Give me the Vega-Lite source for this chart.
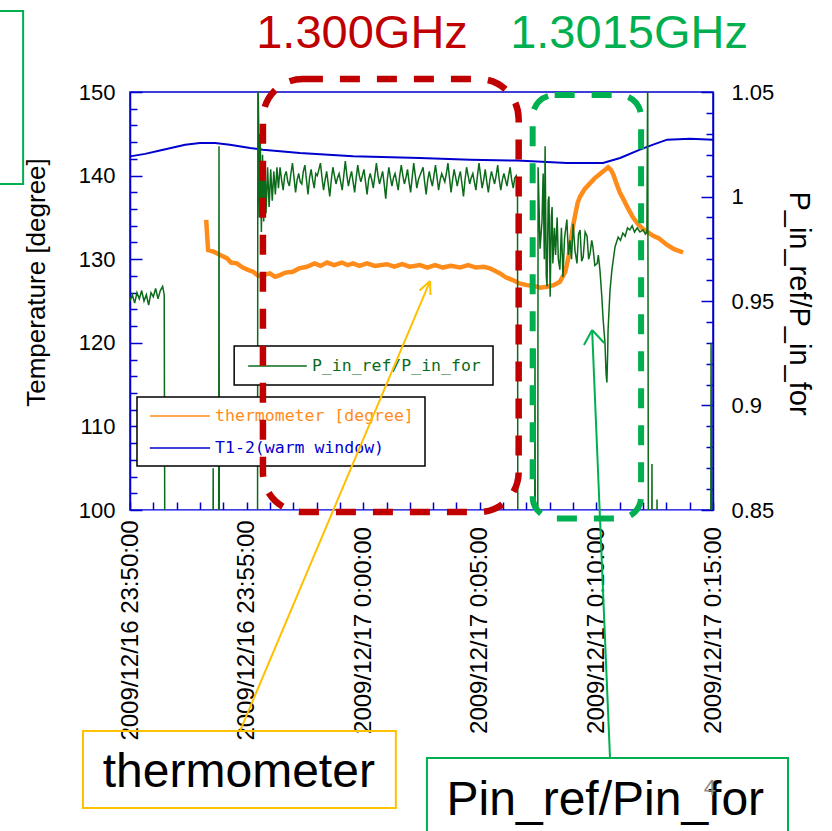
{
  "$schema": "https://vega.github.io/schema/vega-lite/v6.json",
  "width": 583,
  "height": 418,
  "autosize": {"type": "none"},
  "padding": {"left": 130, "top": 92, "right": 119, "bottom": 321},
  "background": "white",
  "config": {
    "view": {"stroke": "#0000cc", "strokeWidth": 1.5},
    "axis": {"labelFont": "Liberation Sans", "titleFont": "Liberation Sans", "labelColor": "black", "titleColor": "black", "grid": false},
    "text": {"font": "Liberation Sans"}
  },
  "datasets": {
    "temps": [
      {"t": "2009-12-16T23:50:00", "series": "T1-2(warm window)", "T": 142.3},
      {"t": "2009-12-16T23:50:39", "series": "T1-2(warm window)", "T": 142.6},
      {"t": "2009-12-16T23:51:17", "series": "T1-2(warm window)", "T": 143.0},
      {"t": "2009-12-16T23:52:22", "series": "T1-2(warm window)", "T": 143.7},
      {"t": "2009-12-16T23:53:00", "series": "T1-2(warm window)", "T": 143.9},
      {"t": "2009-12-16T23:53:39", "series": "T1-2(warm window)", "T": 143.9},
      {"t": "2009-12-16T23:54:17", "series": "T1-2(warm window)", "T": 143.7},
      {"t": "2009-12-16T23:55:09", "series": "T1-2(warm window)", "T": 143.3},
      {"t": "2009-12-16T23:55:42", "series": "T1-2(warm window)", "T": 143.1},
      {"t": "2009-12-16T23:57:17", "series": "T1-2(warm window)", "T": 142.7},
      {"t": "2009-12-16T23:59:34", "series": "T1-2(warm window)", "T": 142.3},
      {"t": "2009-12-17T00:02:26", "series": "T1-2(warm window)", "T": 142.1},
      {"t": "2009-12-17T00:04:35", "series": "T1-2(warm window)", "T": 141.9},
      {"t": "2009-12-17T00:06:36", "series": "T1-2(warm window)", "T": 141.8},
      {"t": "2009-12-17T00:08:44", "series": "T1-2(warm window)", "T": 141.5},
      {"t": "2009-12-17T00:10:17", "series": "T1-2(warm window)", "T": 141.5},
      {"t": "2009-12-17T00:11:01", "series": "T1-2(warm window)", "T": 142.1},
      {"t": "2009-12-17T00:11:52", "series": "T1-2(warm window)", "T": 143.1},
      {"t": "2009-12-17T00:12:26", "series": "T1-2(warm window)", "T": 143.7},
      {"t": "2009-12-17T00:13:02", "series": "T1-2(warm window)", "T": 144.3},
      {"t": "2009-12-17T00:14:01", "series": "T1-2(warm window)", "T": 144.4},
      {"t": "2009-12-17T00:15:00", "series": "T1-2(warm window)", "T": 144.3},
      {"t": "2009-12-16T23:53:16", "series": "thermometer [degree]", "T": 134.7},
      {"t": "2009-12-16T23:53:19", "series": "thermometer [degree]", "T": 132.5},
      {"t": "2009-12-16T23:53:21", "series": "thermometer [degree]", "T": 131.1},
      {"t": "2009-12-16T23:53:35", "series": "thermometer [degree]", "T": 130.9},
      {"t": "2009-12-16T23:53:52", "series": "thermometer [degree]", "T": 130.5},
      {"t": "2009-12-16T23:54:10", "series": "thermometer [degree]", "T": 130.1},
      {"t": "2009-12-16T23:54:20", "series": "thermometer [degree]", "T": 129.6},
      {"t": "2009-12-16T23:54:35", "series": "thermometer [degree]", "T": 129.5},
      {"t": "2009-12-16T23:54:50", "series": "thermometer [degree]", "T": 129.0},
      {"t": "2009-12-16T23:55:05", "series": "thermometer [degree]", "T": 128.7},
      {"t": "2009-12-16T23:55:17", "series": "thermometer [degree]", "T": 128.5},
      {"t": "2009-12-16T23:55:30", "series": "thermometer [degree]", "T": 128.0},
      {"t": "2009-12-16T23:55:42", "series": "thermometer [degree]", "T": 128.1},
      {"t": "2009-12-16T23:56:00", "series": "thermometer [degree]", "T": 128.3},
      {"t": "2009-12-16T23:56:13", "series": "thermometer [degree]", "T": 127.9},
      {"t": "2009-12-16T23:56:26", "series": "thermometer [degree]", "T": 128.1},
      {"t": "2009-12-16T23:56:40", "series": "thermometer [degree]", "T": 128.4},
      {"t": "2009-12-16T23:56:59", "series": "thermometer [degree]", "T": 128.5},
      {"t": "2009-12-16T23:57:15", "series": "thermometer [degree]", "T": 128.9},
      {"t": "2009-12-16T23:57:35", "series": "thermometer [degree]", "T": 129.1},
      {"t": "2009-12-16T23:57:55", "series": "thermometer [degree]", "T": 129.5},
      {"t": "2009-12-16T23:58:10", "series": "thermometer [degree]", "T": 129.2},
      {"t": "2009-12-16T23:58:27", "series": "thermometer [degree]", "T": 129.6},
      {"t": "2009-12-16T23:58:45", "series": "thermometer [degree]", "T": 129.3},
      {"t": "2009-12-16T23:59:05", "series": "thermometer [degree]", "T": 129.6},
      {"t": "2009-12-16T23:59:20", "series": "thermometer [degree]", "T": 129.3},
      {"t": "2009-12-16T23:59:34", "series": "thermometer [degree]", "T": 129.5},
      {"t": "2009-12-16T23:59:50", "series": "thermometer [degree]", "T": 129.2},
      {"t": "2009-12-17T00:00:10", "series": "thermometer [degree]", "T": 129.5},
      {"t": "2009-12-17T00:00:30", "series": "thermometer [degree]", "T": 129.2},
      {"t": "2009-12-17T00:01:01", "series": "thermometer [degree]", "T": 129.4},
      {"t": "2009-12-17T00:01:20", "series": "thermometer [degree]", "T": 129.1},
      {"t": "2009-12-17T00:01:40", "series": "thermometer [degree]", "T": 129.4},
      {"t": "2009-12-17T00:02:00", "series": "thermometer [degree]", "T": 129.1},
      {"t": "2009-12-17T00:02:26", "series": "thermometer [degree]", "T": 129.3},
      {"t": "2009-12-17T00:02:45", "series": "thermometer [degree]", "T": 129.0},
      {"t": "2009-12-17T00:03:05", "series": "thermometer [degree]", "T": 129.3},
      {"t": "2009-12-17T00:03:25", "series": "thermometer [degree]", "T": 129.0},
      {"t": "2009-12-17T00:03:45", "series": "thermometer [degree]", "T": 129.2},
      {"t": "2009-12-17T00:04:09", "series": "thermometer [degree]", "T": 129.0},
      {"t": "2009-12-17T00:04:30", "series": "thermometer [degree]", "T": 129.3},
      {"t": "2009-12-17T00:04:50", "series": "thermometer [degree]", "T": 129.0},
      {"t": "2009-12-17T00:05:10", "series": "thermometer [degree]", "T": 129.1},
      {"t": "2009-12-17T00:05:26", "series": "thermometer [degree]", "T": 128.9},
      {"t": "2009-12-17T00:05:40", "series": "thermometer [degree]", "T": 128.6},
      {"t": "2009-12-17T00:05:52", "series": "thermometer [degree]", "T": 128.3},
      {"t": "2009-12-17T00:06:08", "series": "thermometer [degree]", "T": 127.8},
      {"t": "2009-12-17T00:06:25", "series": "thermometer [degree]", "T": 127.5},
      {"t": "2009-12-17T00:06:42", "series": "thermometer [degree]", "T": 127.1},
      {"t": "2009-12-17T00:07:01", "series": "thermometer [degree]", "T": 126.9},
      {"t": "2009-12-17T00:07:20", "series": "thermometer [degree]", "T": 126.8},
      {"t": "2009-12-17T00:07:35", "series": "thermometer [degree]", "T": 126.6},
      {"t": "2009-12-17T00:07:53", "series": "thermometer [degree]", "T": 126.7},
      {"t": "2009-12-17T00:08:10", "series": "thermometer [degree]", "T": 126.9},
      {"t": "2009-12-17T00:08:26", "series": "thermometer [degree]", "T": 127.3},
      {"t": "2009-12-17T00:08:40", "series": "thermometer [degree]", "T": 128.5},
      {"t": "2009-12-17T00:08:48", "series": "thermometer [degree]", "T": 130.2},
      {"t": "2009-12-17T00:08:55", "series": "thermometer [degree]", "T": 132.5},
      {"t": "2009-12-17T00:09:00", "series": "thermometer [degree]", "T": 134.0},
      {"t": "2009-12-17T00:09:05", "series": "thermometer [degree]", "T": 135.2},
      {"t": "2009-12-17T00:09:12", "series": "thermometer [degree]", "T": 136.8},
      {"t": "2009-12-17T00:09:18", "series": "thermometer [degree]", "T": 137.5},
      {"t": "2009-12-17T00:09:30", "series": "thermometer [degree]", "T": 138.4},
      {"t": "2009-12-17T00:09:44", "series": "thermometer [degree]", "T": 139.1},
      {"t": "2009-12-17T00:09:56", "series": "thermometer [degree]", "T": 139.7},
      {"t": "2009-12-17T00:10:09", "series": "thermometer [degree]", "T": 140.2},
      {"t": "2009-12-17T00:10:20", "series": "thermometer [degree]", "T": 140.6},
      {"t": "2009-12-17T00:10:30", "series": "thermometer [degree]", "T": 141.0},
      {"t": "2009-12-17T00:10:37", "series": "thermometer [degree]", "T": 140.7},
      {"t": "2009-12-17T00:10:43", "series": "thermometer [degree]", "T": 140.2},
      {"t": "2009-12-17T00:10:52", "series": "thermometer [degree]", "T": 139.0},
      {"t": "2009-12-17T00:11:00", "series": "thermometer [degree]", "T": 138.0},
      {"t": "2009-12-17T00:11:08", "series": "thermometer [degree]", "T": 137.3},
      {"t": "2009-12-17T00:11:20", "series": "thermometer [degree]", "T": 136.2},
      {"t": "2009-12-17T00:11:34", "series": "thermometer [degree]", "T": 135.0},
      {"t": "2009-12-17T00:11:47", "series": "thermometer [degree]", "T": 134.2},
      {"t": "2009-12-17T00:12:00", "series": "thermometer [degree]", "T": 133.6},
      {"t": "2009-12-17T00:12:13", "series": "thermometer [degree]", "T": 133.2},
      {"t": "2009-12-17T00:12:26", "series": "thermometer [degree]", "T": 132.8},
      {"t": "2009-12-17T00:12:40", "series": "thermometer [degree]", "T": 132.5},
      {"t": "2009-12-17T00:13:02", "series": "thermometer [degree]", "T": 131.7},
      {"t": "2009-12-17T00:13:20", "series": "thermometer [degree]", "T": 131.2},
      {"t": "2009-12-17T00:13:43", "series": "thermometer [degree]", "T": 130.8}
    ],
    "ratio": [
      {"t": "2009-12-16T23:50:00", "P": 0.950},
      {"t": "2009-12-16T23:50:06", "P": 0.953},
      {"t": "2009-12-16T23:50:12", "P": 0.949},
      {"t": "2009-12-16T23:50:18", "P": 0.954},
      {"t": "2009-12-16T23:50:24", "P": 0.951},
      {"t": "2009-12-16T23:50:30", "P": 0.955},
      {"t": "2009-12-16T23:50:36", "P": 0.950},
      {"t": "2009-12-16T23:50:42", "P": 0.953},
      {"t": "2009-12-16T23:50:48", "P": 0.948},
      {"t": "2009-12-16T23:50:54", "P": 0.954},
      {"t": "2009-12-16T23:51:00", "P": 0.952},
      {"t": "2009-12-16T23:51:06", "P": 0.956},
      {"t": "2009-12-16T23:51:12", "P": 0.951},
      {"t": "2009-12-16T23:51:18", "P": 0.955},
      {"t": "2009-12-16T23:51:24", "P": 0.957},
      {"t": "2009-12-16T23:51:28", "P": 0.953},
      {"t": "2009-12-16T23:51:30", "P": 0.80},
      {"t": "2009-12-16T23:53:33", "P": 0.80},
      {"t": "2009-12-16T23:53:34", "P": 0.870},
      {"t": "2009-12-16T23:53:35", "P": 0.80},
      {"t": "2009-12-16T23:53:48", "P": 0.80},
      {"t": "2009-12-16T23:53:49", "P": 1.024},
      {"t": "2009-12-16T23:53:50", "P": 0.80},
      {"t": "2009-12-16T23:55:28", "P": 0.80},
      {"t": "2009-12-16T23:55:29", "P": 1.06},
      {"t": "2009-12-16T23:55:31", "P": 1.035},
      {"t": "2009-12-16T23:55:33", "P": 0.990},
      {"t": "2009-12-16T23:55:35", "P": 1.030},
      {"t": "2009-12-16T23:55:38", "P": 0.983},
      {"t": "2009-12-16T23:55:41", "P": 1.020},
      {"t": "2009-12-16T23:55:44", "P": 0.988},
      {"t": "2009-12-16T23:55:47", "P": 1.017},
      {"t": "2009-12-16T23:55:50", "P": 0.992},
      {"t": "2009-12-16T23:55:54", "P": 1.014},
      {"t": "2009-12-16T23:55:58", "P": 0.995},
      {"t": "2009-12-16T23:56:02", "P": 1.013},
      {"t": "2009-12-16T23:56:06", "P": 0.998},
      {"t": "2009-12-16T23:56:10", "P": 1.012},
      {"t": "2009-12-16T23:56:14", "P": 1.001},
      {"t": "2009-12-16T23:56:18", "P": 1.014},
      {"t": "2009-12-16T23:56:22", "P": 1.004},
      {"t": "2009-12-16T23:56:26", "P": 1.014},
      {"t": "2009-12-16T23:56:30", "P": 1.008},
      {"t": "2009-12-16T23:56:34", "P": 1.003},
      {"t": "2009-12-16T23:56:38", "P": 1.010},
      {"t": "2009-12-16T23:56:42", "P": 1.012},
      {"t": "2009-12-16T23:56:46", "P": 1.007},
      {"t": "2009-12-16T23:56:50", "P": 1.005},
      {"t": "2009-12-16T23:56:54", "P": 1.011},
      {"t": "2009-12-16T23:56:58", "P": 1.016},
      {"t": "2009-12-16T23:57:02", "P": 1.009},
      {"t": "2009-12-16T23:57:06", "P": 1.002},
      {"t": "2009-12-16T23:57:10", "P": 1.008},
      {"t": "2009-12-16T23:57:14", "P": 1.011},
      {"t": "2009-12-16T23:57:18", "P": 1.007},
      {"t": "2009-12-16T23:57:22", "P": 1.006},
      {"t": "2009-12-16T23:57:26", "P": 1.012},
      {"t": "2009-12-16T23:57:30", "P": 1.015},
      {"t": "2009-12-16T23:57:34", "P": 1.008},
      {"t": "2009-12-16T23:57:38", "P": 1.001},
      {"t": "2009-12-16T23:57:42", "P": 1.009},
      {"t": "2009-12-16T23:57:46", "P": 1.013},
      {"t": "2009-12-16T23:57:50", "P": 1.008},
      {"t": "2009-12-16T23:57:54", "P": 1.004},
      {"t": "2009-12-16T23:57:58", "P": 1.011},
      {"t": "2009-12-16T23:58:02", "P": 1.010},
      {"t": "2009-12-16T23:58:06", "P": 1.013},
      {"t": "2009-12-16T23:58:10", "P": 1.016},
      {"t": "2009-12-16T23:58:14", "P": 1.009},
      {"t": "2009-12-16T23:58:18", "P": 1.003},
      {"t": "2009-12-16T23:58:22", "P": 1.008},
      {"t": "2009-12-16T23:58:26", "P": 1.012},
      {"t": "2009-12-16T23:58:30", "P": 1.006},
      {"t": "2009-12-16T23:58:34", "P": 1.000},
      {"t": "2009-12-16T23:58:38", "P": 1.008},
      {"t": "2009-12-16T23:58:42", "P": 1.014},
      {"t": "2009-12-16T23:58:46", "P": 1.010},
      {"t": "2009-12-16T23:58:50", "P": 1.006},
      {"t": "2009-12-16T23:58:54", "P": 1.009},
      {"t": "2009-12-16T23:58:58", "P": 1.011},
      {"t": "2009-12-16T23:59:02", "P": 1.007},
      {"t": "2009-12-16T23:59:06", "P": 1.003},
      {"t": "2009-12-16T23:59:10", "P": 1.010},
      {"t": "2009-12-16T23:59:14", "P": 1.017},
      {"t": "2009-12-16T23:59:18", "P": 1.010},
      {"t": "2009-12-16T23:59:22", "P": 1.005},
      {"t": "2009-12-16T23:59:26", "P": 1.009},
      {"t": "2009-12-16T23:59:30", "P": 1.012},
      {"t": "2009-12-16T23:59:34", "P": 1.007},
      {"t": "2009-12-16T23:59:38", "P": 1.002},
      {"t": "2009-12-16T23:59:42", "P": 1.009},
      {"t": "2009-12-16T23:59:46", "P": 1.015},
      {"t": "2009-12-16T23:59:50", "P": 1.010},
      {"t": "2009-12-16T23:59:54", "P": 1.007},
      {"t": "2009-12-16T23:59:58", "P": 1.010},
      {"t": "2009-12-17T00:00:02", "P": 1.013},
      {"t": "2009-12-17T00:00:06", "P": 1.007},
      {"t": "2009-12-17T00:00:10", "P": 1.001},
      {"t": "2009-12-17T00:00:14", "P": 1.008},
      {"t": "2009-12-17T00:00:18", "P": 1.011},
      {"t": "2009-12-17T00:00:22", "P": 1.008},
      {"t": "2009-12-17T00:00:26", "P": 1.004},
      {"t": "2009-12-17T00:00:30", "P": 1.010},
      {"t": "2009-12-17T00:00:34", "P": 1.016},
      {"t": "2009-12-17T00:00:38", "P": 1.010},
      {"t": "2009-12-17T00:00:42", "P": 1.006},
      {"t": "2009-12-17T00:00:46", "P": 1.009},
      {"t": "2009-12-17T00:00:50", "P": 1.012},
      {"t": "2009-12-17T00:00:54", "P": 1.006},
      {"t": "2009-12-17T00:00:58", "P": 0.999},
      {"t": "2009-12-17T00:01:02", "P": 1.008},
      {"t": "2009-12-17T00:01:06", "P": 1.014},
      {"t": "2009-12-17T00:01:10", "P": 1.009},
      {"t": "2009-12-17T00:01:14", "P": 1.005},
      {"t": "2009-12-17T00:01:18", "P": 1.009},
      {"t": "2009-12-17T00:01:22", "P": 1.011},
      {"t": "2009-12-17T00:01:26", "P": 1.007},
      {"t": "2009-12-17T00:01:30", "P": 1.003},
      {"t": "2009-12-17T00:01:34", "P": 1.010},
      {"t": "2009-12-17T00:01:38", "P": 1.015},
      {"t": "2009-12-17T00:01:42", "P": 1.010},
      {"t": "2009-12-17T00:01:46", "P": 1.006},
      {"t": "2009-12-17T00:01:50", "P": 1.009},
      {"t": "2009-12-17T00:01:54", "P": 1.013},
      {"t": "2009-12-17T00:01:58", "P": 1.007},
      {"t": "2009-12-17T00:02:02", "P": 1.002},
      {"t": "2009-12-17T00:02:06", "P": 1.009},
      {"t": "2009-12-17T00:02:10", "P": 1.016},
      {"t": "2009-12-17T00:02:14", "P": 1.010},
      {"t": "2009-12-17T00:02:18", "P": 1.004},
      {"t": "2009-12-17T00:02:22", "P": 1.008},
      {"t": "2009-12-17T00:02:26", "P": 1.010},
      {"t": "2009-12-17T00:02:30", "P": 1.012},
      {"t": "2009-12-17T00:02:34", "P": 1.014},
      {"t": "2009-12-17T00:02:38", "P": 1.007},
      {"t": "2009-12-17T00:02:42", "P": 1.001},
      {"t": "2009-12-17T00:02:46", "P": 1.008},
      {"t": "2009-12-17T00:02:50", "P": 1.012},
      {"t": "2009-12-17T00:02:54", "P": 1.008},
      {"t": "2009-12-17T00:02:58", "P": 1.005},
      {"t": "2009-12-17T00:03:02", "P": 1.010},
      {"t": "2009-12-17T00:03:06", "P": 1.015},
      {"t": "2009-12-17T00:03:10", "P": 1.009},
      {"t": "2009-12-17T00:03:14", "P": 1.003},
      {"t": "2009-12-17T00:03:18", "P": 1.008},
      {"t": "2009-12-17T00:03:22", "P": 1.011},
      {"t": "2009-12-17T00:03:26", "P": 1.009},
      {"t": "2009-12-17T00:03:30", "P": 1.007},
      {"t": "2009-12-17T00:03:34", "P": 1.011},
      {"t": "2009-12-17T00:03:38", "P": 1.016},
      {"t": "2009-12-17T00:03:42", "P": 1.009},
      {"t": "2009-12-17T00:03:46", "P": 1.002},
      {"t": "2009-12-17T00:03:50", "P": 1.008},
      {"t": "2009-12-17T00:03:54", "P": 1.013},
      {"t": "2009-12-17T00:03:58", "P": 1.009},
      {"t": "2009-12-17T00:04:02", "P": 1.005},
      {"t": "2009-12-17T00:04:06", "P": 1.009},
      {"t": "2009-12-17T00:04:10", "P": 1.012},
      {"t": "2009-12-17T00:04:14", "P": 1.006},
      {"t": "2009-12-17T00:04:18", "P": 1.000},
      {"t": "2009-12-17T00:04:22", "P": 1.008},
      {"t": "2009-12-17T00:04:26", "P": 1.014},
      {"t": "2009-12-17T00:04:30", "P": 1.010},
      {"t": "2009-12-17T00:04:34", "P": 1.006},
      {"t": "2009-12-17T00:04:38", "P": 1.009},
      {"t": "2009-12-17T00:04:42", "P": 1.011},
      {"t": "2009-12-17T00:04:46", "P": 1.007},
      {"t": "2009-12-17T00:04:50", "P": 1.003},
      {"t": "2009-12-17T00:04:54", "P": 1.010},
      {"t": "2009-12-17T00:04:58", "P": 1.016},
      {"t": "2009-12-17T00:05:02", "P": 1.010},
      {"t": "2009-12-17T00:05:06", "P": 1.004},
      {"t": "2009-12-17T00:05:10", "P": 1.008},
      {"t": "2009-12-17T00:05:14", "P": 1.013},
      {"t": "2009-12-17T00:05:18", "P": 1.007},
      {"t": "2009-12-17T00:05:22", "P": 1.002},
      {"t": "2009-12-17T00:05:26", "P": 1.008},
      {"t": "2009-12-17T00:05:30", "P": 1.012},
      {"t": "2009-12-17T00:05:34", "P": 1.009},
      {"t": "2009-12-17T00:05:38", "P": 1.006},
      {"t": "2009-12-17T00:05:42", "P": 1.010},
      {"t": "2009-12-17T00:05:46", "P": 1.015},
      {"t": "2009-12-17T00:05:50", "P": 1.008},
      {"t": "2009-12-17T00:05:54", "P": 1.003},
      {"t": "2009-12-17T00:05:58", "P": 1.008},
      {"t": "2009-12-17T00:06:02", "P": 1.011},
      {"t": "2009-12-17T00:06:06", "P": 1.008},
      {"t": "2009-12-17T00:06:10", "P": 1.005},
      {"t": "2009-12-17T00:06:14", "P": 1.010},
      {"t": "2009-12-17T00:06:18", "P": 1.014},
      {"t": "2009-12-17T00:06:22", "P": 1.008},
      {"t": "2009-12-17T00:06:26", "P": 1.004},
      {"t": "2009-12-17T00:06:30", "P": 1.009},
      {"t": "2009-12-17T00:06:34", "P": 1.010},
      {"t": "2009-12-17T00:06:37", "P": 1.006},
      {"t": "2009-12-17T00:06:38", "P": 0.80},
      {"t": "2009-12-17T00:07:21", "P": 0.80},
      {"t": "2009-12-17T00:07:22", "P": 0.927},
      {"t": "2009-12-17T00:07:23", "P": 0.80},
      {"t": "2009-12-17T00:07:29", "P": 0.80},
      {"t": "2009-12-17T00:07:30", "P": 1.014},
      {"t": "2009-12-17T00:07:35", "P": 0.975},
      {"t": "2009-12-17T00:07:40", "P": 0.988},
      {"t": "2009-12-17T00:07:43", "P": 1.011},
      {"t": "2009-12-17T00:07:46", "P": 0.970},
      {"t": "2009-12-17T00:07:48", "P": 1.024},
      {"t": "2009-12-17T00:07:51", "P": 0.962},
      {"t": "2009-12-17T00:07:53", "P": 0.957},
      {"t": "2009-12-17T00:07:56", "P": 0.998},
      {"t": "2009-12-17T00:07:58", "P": 1.000},
      {"t": "2009-12-17T00:08:01", "P": 0.952},
      {"t": "2009-12-17T00:08:04", "P": 0.990},
      {"t": "2009-12-17T00:08:06", "P": 0.995},
      {"t": "2009-12-17T00:08:08", "P": 0.968},
      {"t": "2009-12-17T00:08:12", "P": 0.985},
      {"t": "2009-12-17T00:08:15", "P": 0.972},
      {"t": "2009-12-17T00:08:19", "P": 0.990},
      {"t": "2009-12-17T00:08:22", "P": 0.970},
      {"t": "2009-12-17T00:08:26", "P": 0.965},
      {"t": "2009-12-17T00:08:30", "P": 0.985},
      {"t": "2009-12-17T00:08:34", "P": 0.9615},
      {"t": "2009-12-17T00:08:38", "P": 0.980},
      {"t": "2009-12-17T00:08:44", "P": 0.989},
      {"t": "2009-12-17T00:08:48", "P": 0.972},
      {"t": "2009-12-17T00:08:52", "P": 0.979},
      {"t": "2009-12-17T00:08:56", "P": 0.970},
      {"t": "2009-12-17T00:09:00", "P": 0.987},
      {"t": "2009-12-17T00:09:05", "P": 0.974},
      {"t": "2009-12-17T00:09:10", "P": 0.968},
      {"t": "2009-12-17T00:09:14", "P": 0.982},
      {"t": "2009-12-17T00:09:18", "P": 0.984},
      {"t": "2009-12-17T00:09:22", "P": 0.969},
      {"t": "2009-12-17T00:09:26", "P": 0.971},
      {"t": "2009-12-17T00:09:31", "P": 0.983},
      {"t": "2009-12-17T00:09:36", "P": 0.981},
      {"t": "2009-12-17T00:09:40", "P": 0.970},
      {"t": "2009-12-17T00:09:44", "P": 0.973},
      {"t": "2009-12-17T00:09:48", "P": 0.979},
      {"t": "2009-12-17T00:09:51", "P": 0.976},
      {"t": "2009-12-17T00:09:56", "P": 0.967},
      {"t": "2009-12-17T00:10:02", "P": 0.968},
      {"t": "2009-12-17T00:10:05", "P": 0.972},
      {"t": "2009-12-17T00:10:09", "P": 0.965},
      {"t": "2009-12-17T00:10:14", "P": 0.952},
      {"t": "2009-12-17T00:10:17", "P": 0.942},
      {"t": "2009-12-17T00:10:22", "P": 0.930},
      {"t": "2009-12-17T00:10:25", "P": 0.915},
      {"t": "2009-12-17T00:10:27", "P": 0.911},
      {"t": "2009-12-17T00:10:29", "P": 0.925},
      {"t": "2009-12-17T00:10:30", "P": 0.936},
      {"t": "2009-12-17T00:10:35", "P": 0.955},
      {"t": "2009-12-17T00:10:40", "P": 0.965},
      {"t": "2009-12-17T00:10:48", "P": 0.976},
      {"t": "2009-12-17T00:10:56", "P": 0.9806},
      {"t": "2009-12-17T00:11:02", "P": 0.979},
      {"t": "2009-12-17T00:11:08", "P": 0.9825},
      {"t": "2009-12-17T00:11:14", "P": 0.981},
      {"t": "2009-12-17T00:11:20", "P": 0.985},
      {"t": "2009-12-17T00:11:26", "P": 0.984},
      {"t": "2009-12-17T00:11:32", "P": 0.986},
      {"t": "2009-12-17T00:11:38", "P": 0.983},
      {"t": "2009-12-17T00:11:45", "P": 0.985},
      {"t": "2009-12-17T00:11:52", "P": 0.983},
      {"t": "2009-12-17T00:12:00", "P": 0.984},
      {"t": "2009-12-17T00:12:06", "P": 0.982},
      {"t": "2009-12-17T00:12:10", "P": 0.983},
      {"t": "2009-12-17T00:12:12", "P": 1.06},
      {"t": "2009-12-17T00:12:14", "P": 0.80},
      {"t": "2009-12-17T00:12:22", "P": 0.80},
      {"t": "2009-12-17T00:12:23", "P": 0.872},
      {"t": "2009-12-17T00:12:24", "P": 0.80},
      {"t": "2009-12-17T00:12:35", "P": 0.80},
      {"t": "2009-12-17T00:12:36", "P": 0.855},
      {"t": "2009-12-17T00:12:37", "P": 0.80},
      {"t": "2009-12-17T00:14:54", "P": 0.80},
      {"t": "2009-12-17T00:14:55", "P": 0.930},
      {"t": "2009-12-17T00:14:57", "P": 0.80},
      {"t": "2009-12-17T00:15:00", "P": 0.80}
    ],
    "frames": [
      {"kind": "legend box", "t1": "2009-12-16T23:54:28", "t2": "2009-12-17T00:05:34", "v1": 119.62, "v2": 114.95},
      {"kind": "legend box", "t1": "2009-12-16T23:50:18", "t2": "2009-12-17T00:02:39", "v1": 113.52, "v2": 105.26},
      {"kind": "1.300GHz region", "t1": "2009-12-16T23:55:42", "t2": "2009-12-17T00:06:40", "v1": 151.56, "v2": 99.76},
      {"kind": "1.3015GHz region", "t1": "2009-12-17T00:07:16", "t2": "2009-12-17T00:11:55", "v1": 149.64, "v2": 98.98},
      {"kind": "thermometer box", "t1": "2009-12-16T23:47:59", "t2": "2009-12-17T00:01:24", "v1": 73.56, "v2": 64.35},
      {"kind": "Pin box", "t1": "2009-12-17T00:02:44", "t2": "2009-12-17T00:18:13", "v1": 70.33, "v2": 60.5},
      {"kind": "corner box", "t1": "2009-12-16T23:44:00", "t2": "2009-12-16T23:45:25", "v1": 159.69, "v2": 139.0}
    ],
    "segments": [
      {"kind": "legend P", "t1": "2009-12-16T23:55:04", "t2": "2009-12-16T23:57:35", "v1": 117.22, "v2": 117.22},
      {"kind": "legend thermometer", "t1": "2009-12-16T23:50:51", "t2": "2009-12-16T23:53:26", "v1": 111.24, "v2": 111.24},
      {"kind": "legend T1-2", "t1": "2009-12-16T23:50:51", "t2": "2009-12-16T23:53:26", "v1": 107.42, "v2": 107.42},
      {"kind": "thermometer arrow", "t1": "2009-12-16T23:54:43", "t2": "2009-12-17T00:02:52", "v1": 73.56, "v2": 127.39},
      {"kind": "thermometer arrow", "t1": "2009-12-17T00:02:25", "t2": "2009-12-17T00:02:52", "v1": 126.27, "v2": 127.39},
      {"kind": "thermometer arrow", "t1": "2009-12-17T00:02:53", "t2": "2009-12-17T00:02:52", "v1": 125.72, "v2": 127.39},
      {"kind": "Pin arrow", "t1": "2009-12-17T00:10:35", "t2": "2009-12-17T00:09:49", "v1": 70.33, "v2": 121.53},
      {"kind": "Pin arrow", "t1": "2009-12-17T00:09:28", "t2": "2009-12-17T00:09:49", "v1": 119.74, "v2": 121.53},
      {"kind": "Pin arrow", "t1": "2009-12-17T00:10:20", "t2": "2009-12-17T00:09:49", "v1": 119.98, "v2": 121.53}
    ],
    "notes": [
      {"kind": "legend P", "t": "2009-12-16T23:57:48", "v": 117.22, "label": "P_in_ref/P_in_for"},
      {"kind": "legend thermometer", "t": "2009-12-16T23:53:39", "v": 111.24, "label": "thermometer [degree]"},
      {"kind": "legend T1-2", "t": "2009-12-16T23:53:39", "v": 107.42, "label": "T1-2(warm window)"},
      {"kind": "1.300GHz region", "t": "2009-12-16T23:59:57", "v": 155.26, "label": "1.300GHz"},
      {"kind": "1.3015GHz region", "t": "2009-12-17T00:11:24", "v": 155.26, "label": "1.3015GHz"},
      {"kind": "box", "t": "2009-12-16T23:54:40", "v": 66.87, "label": "thermometer"},
      {"kind": "box", "t": "2009-12-17T00:10:23", "v": 63.52, "label": "Pin_ref/Pin_for"},
      {"kind": "page", "t": "2009-12-17T00:14:52", "v": 65.91, "label": "4"}
    ]
  },
  "layer": [
    {
      "data": {"name": "temps"},
      "mark": {"type": "line"},
      "encoding": {
        "x": {
          "field": "t", "type": "temporal",
          "scale": {"domain": [{"year": 2009, "month": 12, "date": 16, "hours": 23, "minutes": 50}, {"year": 2009, "month": 12, "date": 17, "hours": 0, "minutes": 15}], "nice": false},
          "axis": {
            "orient": "bottom", "title": null,
            "values": [
              {"year": 2009, "month": 12, "date": 16, "hours": 23, "minutes": 50},
              {"year": 2009, "month": 12, "date": 16, "hours": 23, "minutes": 51},
              {"year": 2009, "month": 12, "date": 16, "hours": 23, "minutes": 52},
              {"year": 2009, "month": 12, "date": 16, "hours": 23, "minutes": 53},
              {"year": 2009, "month": 12, "date": 16, "hours": 23, "minutes": 54},
              {"year": 2009, "month": 12, "date": 16, "hours": 23, "minutes": 55},
              {"year": 2009, "month": 12, "date": 16, "hours": 23, "minutes": 56},
              {"year": 2009, "month": 12, "date": 16, "hours": 23, "minutes": 57},
              {"year": 2009, "month": 12, "date": 16, "hours": 23, "minutes": 58},
              {"year": 2009, "month": 12, "date": 16, "hours": 23, "minutes": 59},
              {"year": 2009, "month": 12, "date": 17, "hours": 0, "minutes": 0},
              {"year": 2009, "month": 12, "date": 17, "hours": 0, "minutes": 1},
              {"year": 2009, "month": 12, "date": 17, "hours": 0, "minutes": 2},
              {"year": 2009, "month": 12, "date": 17, "hours": 0, "minutes": 3},
              {"year": 2009, "month": 12, "date": 17, "hours": 0, "minutes": 4},
              {"year": 2009, "month": 12, "date": 17, "hours": 0, "minutes": 5},
              {"year": 2009, "month": 12, "date": 17, "hours": 0, "minutes": 6},
              {"year": 2009, "month": 12, "date": 17, "hours": 0, "minutes": 7},
              {"year": 2009, "month": 12, "date": 17, "hours": 0, "minutes": 8},
              {"year": 2009, "month": 12, "date": 17, "hours": 0, "minutes": 9},
              {"year": 2009, "month": 12, "date": 17, "hours": 0, "minutes": 10},
              {"year": 2009, "month": 12, "date": 17, "hours": 0, "minutes": 11},
              {"year": 2009, "month": 12, "date": 17, "hours": 0, "minutes": 12},
              {"year": 2009, "month": 12, "date": 17, "hours": 0, "minutes": 13},
              {"year": 2009, "month": 12, "date": 17, "hours": 0, "minutes": 14},
              {"year": 2009, "month": 12, "date": 17, "hours": 0, "minutes": 15}
            ],
            "format": "%Y/%m/%d %-H:%M:%S",
            "labelExpr": "minutes(datum.value) % 5 == 0 ? datum.label : ''",
            "labelAngle": 270, "labelAlign": "center", "labelBaseline": "middle",
            "labelPadding": 128, "labelFontSize": 24, "labelLimit": 0, "labelOverlap": false, "labelFlush": false,
            "tickSize": -8, "tickColor": "#0000cc", "tickWidth": 1.5,
            "domainColor": "#7f7fff", "domainWidth": 1
          }
        },
        "y": {
          "field": "T", "type": "quantitative",
          "scale": {"domain": [100, 150], "nice": false, "zero": false},
          "axis": {
            "orient": "left",
            "values": [100, 102, 104, 106, 108, 110, 112, 114, 116, 118, 120, 122, 124, 126, 128, 130, 132, 134, 136, 138, 140, 142, 144, 146, 148, 150],
            "labelExpr": "datum.value % 10 == 0 ? datum.label : ''",
            "tickSize": {"condition": {"test": "datum.value % 10 == 0", "value": -12}, "value": -7},
            "tickColor": "#0000cc", "tickWidth": 1.5, "domainColor": "#0000cc", "domainWidth": 1.5,
            "labelFontSize": 22, "labelPadding": 27, "labelBaseline": "middle", "labelFlush": false, "labelOverlap": false,
            "title": "Temperature [degree]", "titleFontSize": 26, "titleFontWeight": "normal",
            "titleAngle": -90, "titleX": -94, "titleY": 190, "titleAlign": "center", "titleBaseline": "middle"
          }
        },
        "color": {"field": "series", "type": "nominal", "scale": {"domain": ["T1-2(warm window)", "thermometer [degree]"], "range": ["#0000cc", "#ff8c1a"]}, "legend": null},
        "strokeWidth": {"field": "series", "type": "nominal", "scale": {"domain": ["T1-2(warm window)", "thermometer [degree]"], "range": [2, 4.5]}, "legend": null}
      }
    },
    {
      "data": {"name": "ratio"},
      "mark": {"type": "line", "color": "#0b6b1a", "strokeWidth": 1.5, "clip": true},
      "encoding": {
        "x": {"field": "t", "type": "temporal", "axis": null},
        "y": {
          "field": "P", "type": "quantitative",
          "scale": {"domain": [0.85, 1.05], "nice": false, "zero": false},
          "axis": {
            "orient": "right",
            "values": [0.85, 0.86, 0.87, 0.88, 0.89, 0.9, 0.91, 0.92, 0.93, 0.94, 0.95, 0.96, 0.97, 0.98, 0.99, 1, 1.01, 1.02, 1.03, 1.04, 1.05],
            "labelExpr": "abs(datum.value * 20 - round(datum.value * 20)) < 0.001 ? ('' + datum.value) : ''",
            "tickSize": {"condition": {"test": "abs(datum.value * 20 - round(datum.value * 20)) < 0.001", "value": -12}, "value": -7},
            "tickColor": "#0000cc", "tickWidth": 1.5, "domainColor": "#0000cc", "domainWidth": 1.5,
            "labelFontSize": 22, "labelPadding": 30, "labelBaseline": "middle", "labelFlush": false, "labelOverlap": false,
            "title": "P_in_ref/P_in_for", "titleFontSize": 29, "titleFontWeight": "normal",
            "titleAngle": 90, "titleX": 85, "titleY": 211, "titleAlign": "center", "titleBaseline": "middle"
          }
        }
      }
    },
    {
      "layer": [
        {
          "data": {"name": "frames"},
          "transform": [{"filter": "datum.kind == 'legend box'"}],
          "mark": {"type": "rect", "fill": "white", "stroke": "black", "strokeWidth": 1.5},
          "encoding": {
            "x": {"field": "t1", "type": "temporal", "axis": null},
            "x2": {"field": "t2"},
            "y": {"field": "v1", "type": "quantitative", "scale": {"domain": [100, 150], "nice": false, "zero": false}, "axis": null},
            "y2": {"field": "v2"}
          }
        },
        {
          "data": {"name": "segments"},
          "transform": [{"filter": "datum.kind == 'legend P'"}],
          "mark": {"type": "rule", "color": "#0b6b1a", "strokeWidth": 1.5},
          "encoding": {
            "x": {"field": "t1", "type": "temporal", "axis": null}, "x2": {"field": "t2"},
            "y": {"field": "v1", "type": "quantitative", "axis": null}, "y2": {"field": "v2"}
          }
        },
        {
          "data": {"name": "segments"},
          "transform": [{"filter": "datum.kind == 'legend thermometer'"}],
          "mark": {"type": "rule", "color": "#ff8c1a", "strokeWidth": 1.5},
          "encoding": {
            "x": {"field": "t1", "type": "temporal", "axis": null}, "x2": {"field": "t2"},
            "y": {"field": "v1", "type": "quantitative", "axis": null}, "y2": {"field": "v2"}
          }
        },
        {
          "data": {"name": "segments"},
          "transform": [{"filter": "datum.kind == 'legend T1-2'"}],
          "mark": {"type": "rule", "color": "#0000cc", "strokeWidth": 1.5},
          "encoding": {
            "x": {"field": "t1", "type": "temporal", "axis": null}, "x2": {"field": "t2"},
            "y": {"field": "v1", "type": "quantitative", "axis": null}, "y2": {"field": "v2"}
          }
        },
        {
          "data": {"name": "notes"},
          "transform": [{"filter": "datum.kind == 'legend P'"}],
          "mark": {"type": "text", "font": "DejaVu Sans Mono", "fontSize": 16.5, "align": "left", "baseline": "middle", "color": "#0b6b1a"},
          "encoding": {
            "x": {"field": "t", "type": "temporal", "axis": null},
            "y": {"field": "v", "type": "quantitative", "axis": null},
            "text": {"field": "label"}
          }
        },
        {
          "data": {"name": "notes"},
          "transform": [{"filter": "datum.kind == 'legend thermometer'"}],
          "mark": {"type": "text", "font": "DejaVu Sans Mono", "fontSize": 16.5, "align": "left", "baseline": "middle", "color": "#ff8c1a"},
          "encoding": {
            "x": {"field": "t", "type": "temporal", "axis": null},
            "y": {"field": "v", "type": "quantitative", "axis": null},
            "text": {"field": "label"}
          }
        },
        {
          "data": {"name": "notes"},
          "transform": [{"filter": "datum.kind == 'legend T1-2'"}],
          "mark": {"type": "text", "font": "DejaVu Sans Mono", "fontSize": 16.5, "align": "left", "baseline": "middle", "color": "#0000cc"},
          "encoding": {
            "x": {"field": "t", "type": "temporal", "axis": null},
            "y": {"field": "v", "type": "quantitative", "axis": null},
            "text": {"field": "label"}
          }
        },
        {
          "data": {"name": "frames"},
          "transform": [{"filter": "datum.kind == '1.300GHz region'"}],
          "mark": {"type": "rect", "filled": false, "color": "#c00000", "strokeWidth": 6.5, "strokeDash": [20, 17], "cornerRadius": 40},
          "encoding": {
            "x": {"field": "t1", "type": "temporal", "axis": null}, "x2": {"field": "t2"},
            "y": {"field": "v1", "type": "quantitative", "axis": null}, "y2": {"field": "v2"}
          }
        },
        {
          "data": {"name": "frames"},
          "transform": [{"filter": "datum.kind == '1.3015GHz region'"}],
          "mark": {"type": "rect", "filled": false, "color": "#00b050", "strokeWidth": 6, "strokeDash": [20, 17], "cornerRadius": 22},
          "encoding": {
            "x": {"field": "t1", "type": "temporal", "axis": null}, "x2": {"field": "t2"},
            "y": {"field": "v1", "type": "quantitative", "axis": null}, "y2": {"field": "v2"}
          }
        },
        {
          "data": {"name": "frames"},
          "transform": [{"filter": "datum.kind == 'thermometer box'"}],
          "mark": {"type": "rect", "filled": false, "color": "#ffc000", "strokeWidth": 2},
          "encoding": {
            "x": {"field": "t1", "type": "temporal", "axis": null}, "x2": {"field": "t2"},
            "y": {"field": "v1", "type": "quantitative", "axis": null}, "y2": {"field": "v2"}
          }
        },
        {
          "data": {"name": "frames"},
          "transform": [{"filter": "datum.kind == 'Pin box' || datum.kind == 'corner box'"}],
          "mark": {"type": "rect", "filled": false, "color": "#00b050", "strokeWidth": 2},
          "encoding": {
            "x": {"field": "t1", "type": "temporal", "axis": null}, "x2": {"field": "t2"},
            "y": {"field": "v1", "type": "quantitative", "axis": null}, "y2": {"field": "v2"}
          }
        },
        {
          "data": {"name": "segments"},
          "transform": [{"filter": "datum.kind == 'thermometer arrow'"}],
          "mark": {"type": "rule", "color": "#ffc000", "strokeWidth": 2},
          "encoding": {
            "x": {"field": "t1", "type": "temporal", "axis": null}, "x2": {"field": "t2"},
            "y": {"field": "v1", "type": "quantitative", "axis": null}, "y2": {"field": "v2"}
          }
        },
        {
          "data": {"name": "segments"},
          "transform": [{"filter": "datum.kind == 'Pin arrow'"}],
          "mark": {"type": "rule", "color": "#00b050", "strokeWidth": 2},
          "encoding": {
            "x": {"field": "t1", "type": "temporal", "axis": null}, "x2": {"field": "t2"},
            "y": {"field": "v1", "type": "quantitative", "axis": null}, "y2": {"field": "v2"}
          }
        },
        {
          "data": {"name": "notes"},
          "transform": [{"filter": "datum.kind == '1.300GHz region'"}],
          "mark": {"type": "text", "fontSize": 47, "align": "center", "baseline": "alphabetic", "color": "#c00000"},
          "encoding": {
            "x": {"field": "t", "type": "temporal", "axis": null},
            "y": {"field": "v", "type": "quantitative", "axis": null},
            "text": {"field": "label"}
          }
        },
        {
          "data": {"name": "notes"},
          "transform": [{"filter": "datum.kind == '1.3015GHz region'"}],
          "mark": {"type": "text", "fontSize": 47, "align": "center", "baseline": "alphabetic", "color": "#00b050"},
          "encoding": {
            "x": {"field": "t", "type": "temporal", "axis": null},
            "y": {"field": "v", "type": "quantitative", "axis": null},
            "text": {"field": "label"}
          }
        },
        {
          "data": {"name": "notes"},
          "transform": [{"filter": "datum.kind == 'box'"}],
          "mark": {"type": "text", "fontSize": 48, "align": "center", "baseline": "alphabetic", "color": "black"},
          "encoding": {
            "x": {"field": "t", "type": "temporal", "axis": null},
            "y": {"field": "v", "type": "quantitative", "axis": null},
            "text": {"field": "label"}
          }
        },
        {
          "data": {"name": "notes"},
          "transform": [{"filter": "datum.kind == 'page'"}],
          "mark": {"type": "text", "fontSize": 22, "align": "center", "baseline": "alphabetic", "color": "#8c8c8c"},
          "encoding": {
            "x": {"field": "t", "type": "temporal", "axis": null},
            "y": {"field": "v", "type": "quantitative", "axis": null},
            "text": {"field": "label"}
          }
        }
      ]
    }
  ],
  "resolve": {"scale": {"y": "independent"}, "axis": {"x": "independent"}}
}
